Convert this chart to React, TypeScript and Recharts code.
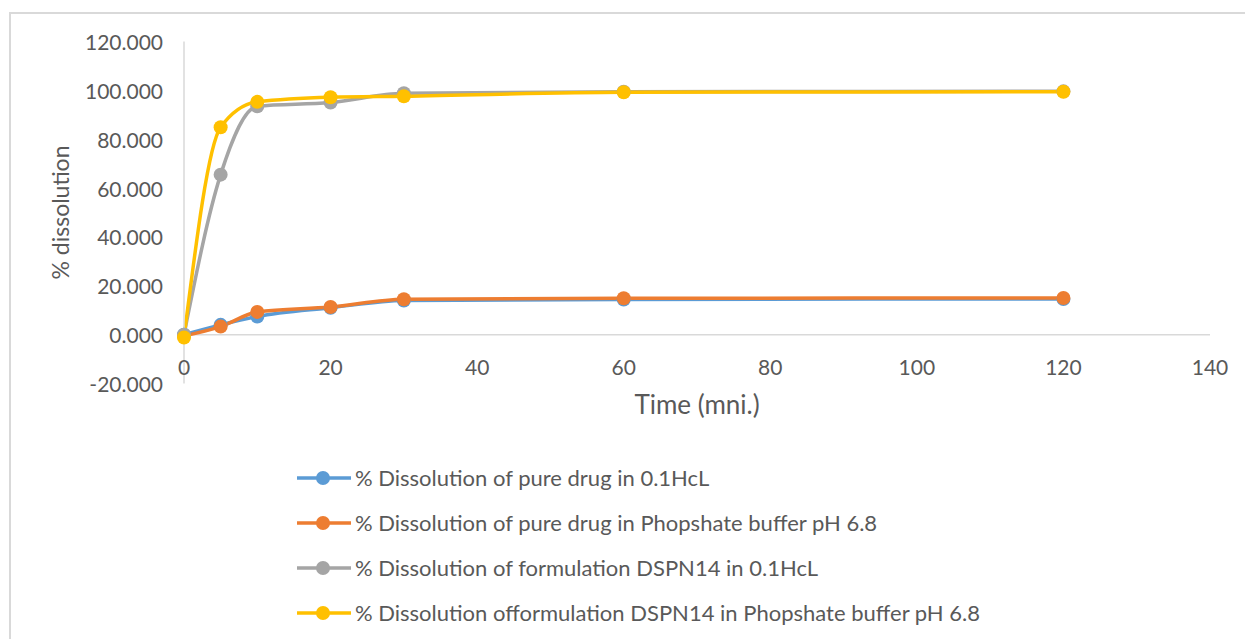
import { LineChart, Line, XAxis, YAxis, ReferenceLine, Legend } from 'recharts'

// sampling times (min)
const times = [0, 5, 10, 20, 30, 60, 120]

// % dissolved at each time point
const pureHcl = [0, 4, 7.4, 11, 14, 14.4, 14.6]
const purePhosphate = [-0.5, 3.3, 9.3, 11.3, 14.5, 14.9, 15]
const dspnHcl = [0, 65.5, 93.5, 95, 98.8, 99.4, 99.6]
const dspnPhosphate = [-1.2, 84.9, 95.3, 97.2, 97.6, 99.2, 99.4]

const xTicks = [0, 20, 40, 60, 80, 100, 120, 140]
const yTicks = [-20, 0, 20, 40, 60, 80, 100, 120]

const series = [
  { key: 'pureHcl', name: '% Dissolution of pure drug in 0.1HcL', color: '#5b9bd5', values: pureHcl },
  { key: 'purePhosphate', name: '% Dissolution of pure drug in Phopshate buffer pH 6.8', color: '#ed7d31', values: purePhosphate },
  { key: 'dspnHcl', name: '% Dissolution of formulation DSPN14 in 0.1HcL', color: '#a5a5a5', values: dspnHcl },
  { key: 'dspnPhosphate', name: '% Dissolution offormulation DSPN14 in Phopshate buffer pH 6.8', color: '#ffc000', values: dspnPhosphate },
]

const data = times.map((t, i) => {
  const row: Record<string, number> = { time: t }
  series.forEach((s) => (row[s.key] = s.values[i]))
  return row
})

const FONT = 'Lato, "Noto Sans", sans-serif'
const TEXT = '#595959'
const AXIS = '#d9d9d9'

function XTick({ x, y, payload }: any) {
  return (
    <text x={x} y={y - 17} textAnchor="middle" dominantBaseline="central" fontFamily={FONT} fontSize={21} fill={TEXT}>
      {payload.value}
    </text>
  )
}

function YTick({ x, y, payload }: any) {
  return (
    <text x={x} y={y} textAnchor="end" dominantBaseline="central" fontFamily={FONT} fontSize={21} fill={TEXT}>
      {Number(payload.value).toFixed(3)}
    </text>
  )
}

function XTitle({ viewBox }: any) {
  return (
    <text x={viewBox.x + viewBox.width / 2} y={viewBox.y + 20} textAnchor="middle" dominantBaseline="central" fontFamily={FONT} fontSize={26} fill={TEXT}>
      Time (mni.)
    </text>
  )
}

function YTitle({ viewBox }: any) {
  const cy = viewBox.y + viewBox.height / 2
  return (
    <text x={60} y={cy} transform={`rotate(-90 60 ${cy})`} textAnchor="middle" dominantBaseline="central" fontFamily={FONT} fontSize={23} fill={TEXT}>
      % dissolution
    </text>
  )
}

function LegendList() {
  return (
    <div style={{ fontFamily: FONT, fontSize: 22, color: TEXT }}>
      {series.map((s) => (
        <div key={s.key} style={{ height: 45, display: 'flex', alignItems: 'center', whiteSpace: 'nowrap' }}>
          <svg width={54} height={16} style={{ marginRight: 4 }}>
            <line x1={0} y1={8} x2={54} y2={8} stroke={s.color} strokeWidth={3.5} />
            <circle cx={26} cy={8} r={7} fill={s.color} />
          </svg>
          <span>{s.name}</span>
        </div>
      ))}
    </div>
  )
}

export default function App() {
  return (
    <div style={{ position: 'absolute', left: 0, top: 0, width: 1245, height: 639, background: '#fff', overflow: 'hidden' }}>
      <div style={{ position: 'absolute', left: 9, top: 12, width: 1400, height: 800, border: `2px solid ${AXIS}` }} />
      <div style={{ position: 'absolute', left: 0, top: 0 }}>
        <LineChart width={1245} height={639} data={data} margin={{ top: 41.5, right: 35, left: 0, bottom: 225.5 }}>
          <XAxis
            dataKey="time"
            type="number"
            domain={[0, 140]}
            ticks={xTicks}
            axisLine={false}
            tickLine={false}
            tickSize={0}
            tickMargin={0}
            height={30}
            tick={<XTick />}
            label={<XTitle />}
          />
          <YAxis
            type="number"
            domain={[-20, 120]}
            ticks={yTicks}
            width={184}
            axisLine={{ stroke: AXIS, strokeWidth: 1.5 }}
            tickLine={false}
            tickSize={0}
            tickMargin={21}
            tick={<YTick />}
            label={<YTitle />}
          />
          <ReferenceLine y={0} stroke={AXIS} strokeWidth={1.5} />
          <Legend
            layout="vertical"
            align="center"
            verticalAlign="middle"
            content={<LegendList />}
            wrapperStyle={{ left: 297, top: 455, width: 900 }}
          />
          {series.map((s) => (
            <Line
              key={s.key}
              type="monotone"
              dataKey={s.key}
              name={s.name}
              stroke={s.color}
              strokeWidth={3.5}
              dot={{ r: 7, fill: s.color, stroke: s.color, strokeWidth: 0 }}
              activeDot={false}
              isAnimationActive={false}
            />
          ))}
        </LineChart>
      </div>
    </div>
  )
}
